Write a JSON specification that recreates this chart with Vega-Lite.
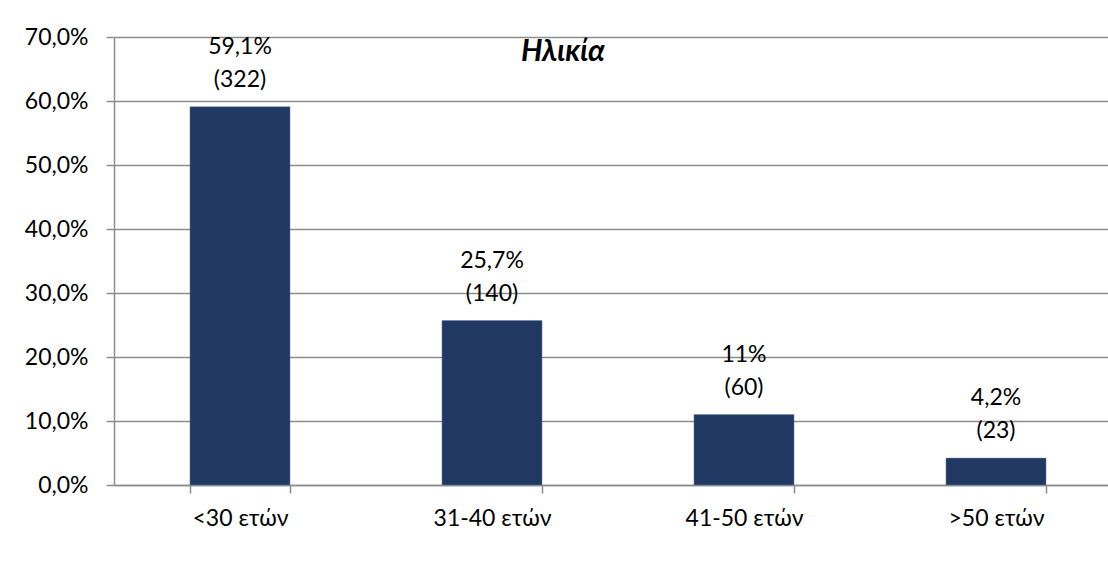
{
  "$schema": "https://vega.github.io/schema/vega-lite/v6.json",
  "autosize": {"type": "none"},
  "padding": {"left": 114, "top": 37, "right": 0, "bottom": 102},
  "width": 1008,
  "height": 448,
  "background": "white",
  "title": {
    "text": "Ηλικία",
    "font": "Lato",
    "fontSize": 30,
    "fontWeight": "bold",
    "fontStyle": "italic",
    "color": "black",
    "anchor": "middle",
    "baseline": "alphabetic",
    "offset": -31,
    "dy": 34,
    "dx": -55
  },
  "data": {
    "values": [
      {"age": "<30 ετών", "pct": 59.1, "label": "59,1%\n(322)"},
      {"age": "31-40 ετών", "pct": 25.7, "label": "25,7%\n(140)"},
      {"age": "41-50 ετών", "pct": 11.0, "label": "11%\n(60)"},
      {"age": ">50 ετών", "pct": 4.2, "label": "4,2%\n(23)"}
    ]
  },
  "encoding": {
    "x": {
      "field": "age",
      "type": "nominal",
      "sort": null,
      "title": null,
      "scale": {"paddingInner": 0.603, "paddingOuter": 0.3015},
      "axis": {
        "labelAngle": 0,
        "labelFont": "Lato",
        "labelFontSize": 23,
        "labelColor": "black",
        "labelPadding": 14,
        "tickBand": "extent",
        "tickSize": 8,
        "tickColor": "#8c8c8c",
        "domainColor": "#8c8c8c",
        "domainWidth": 1.5,
        "tickWidth": 1.5,
        "grid": false
      }
    },
    "y": {
      "field": "pct",
      "type": "quantitative",
      "title": null,
      "scale": {"domain": [0, 70], "nice": false},
      "axis": {
        "values": [0, 10, 20, 30, 40, 50, 60, 70],
        "labelExpr": "replace(format(datum.value, '.1f'), '.', ',') + '%'",
        "labelFont": "Lato",
        "labelFontSize": 23,
        "labelColor": "black",
        "labelPadding": 18,
        "tickSize": 8,
        "tickColor": "#8c8c8c",
        "tickWidth": 1.5,
        "domainColor": "#8c8c8c",
        "domainWidth": 1.5,
        "grid": true,
        "gridColor": "#8c8c8c",
        "gridWidth": 1.5
      }
    }
  },
  "layer": [
    {
      "mark": {"type": "bar", "color": "#213862", "stroke": "#6a7fa6", "strokeWidth": 0.5}
    },
    {
      "mark": {
        "type": "text",
        "font": "Lato",
        "fontSize": 23,
        "color": "black",
        "baseline": "bottom",
        "lineBreak": "\n",
        "lineHeight": 33,
        "dy": -48
      },
      "encoding": {"text": {"field": "label"}}
    }
  ],
  "config": {"view": {"stroke": null}}
}
